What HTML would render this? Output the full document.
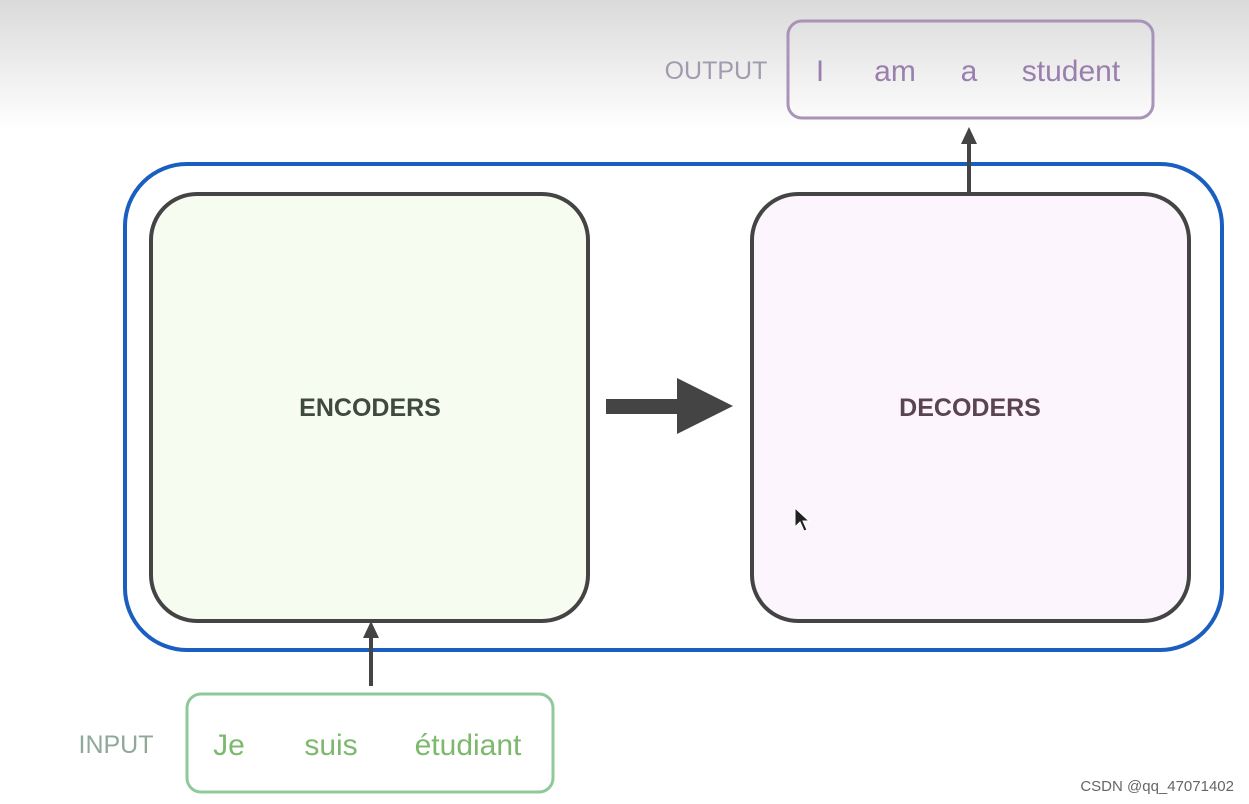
<!DOCTYPE html>
<html><head><meta charset="utf-8"><style>
html,body{margin:0;padding:0;width:1249px;height:804px;overflow:hidden;background:#fff}
text{font-family:"Liberation Sans",sans-serif}
</style></head><body>
<svg width="1249" height="804" viewBox="0 0 1249 804">
<defs>
<linearGradient id="bg" x1="0" y1="0" x2="0" y2="1">
<stop offset="0" stop-color="#dadada"/><stop offset="1" stop-color="#ffffff"/>
</linearGradient>
</defs>
<rect x="0" y="0" width="1249" height="130" fill="url(#bg)"/>
<rect x="125" y="164" width="1097" height="486" rx="62" fill="none" stroke="#1a5ec0" stroke-width="4"/>
<rect x="151" y="194" width="437" height="427" rx="46" fill="#f6fcef" stroke="#444" stroke-width="4"/>
<rect x="752" y="194" width="437" height="427" rx="46" fill="#fdf5fd" stroke="#444" stroke-width="4"/>
<text x="370" y="416" text-anchor="middle" font-size="25" font-weight="bold" fill="#3d4a3d">ENCODERS</text>
<text x="970" y="416" text-anchor="middle" font-size="25" font-weight="bold" fill="#5a4452">DECODERS</text>
<rect x="606" y="399" width="74" height="15" fill="#444"/>
<polygon points="677,378 733,406 677,434" fill="#444"/>
<line x1="969" y1="194" x2="969" y2="142" stroke="#444" stroke-width="4"/>
<polygon points="961,144 969,127 977,144" fill="#444"/>
<line x1="371" y1="686" x2="371" y2="636" stroke="#444" stroke-width="4"/>
<polygon points="363,638 371,621 379,638" fill="#444"/>
<rect x="788" y="21" width="365" height="97" rx="14" fill="none" stroke="#a993b9" stroke-width="3"/>
<text x="716" y="79" text-anchor="middle" font-size="25" fill="#a49ab0">OUTPUT</text>
<text x="820" y="81" text-anchor="middle" font-size="30" fill="#9a7fae">I</text>
<text x="895" y="81" text-anchor="middle" font-size="30" fill="#9a7fae">am</text>
<text x="969" y="81" text-anchor="middle" font-size="30" fill="#9a7fae">a</text>
<text x="1071" y="81" text-anchor="middle" font-size="30" fill="#9a7fae">student</text>
<rect x="187" y="694" width="366" height="98" rx="14" fill="none" stroke="#8fc899" stroke-width="3"/>
<text x="116" y="753" text-anchor="middle" font-size="25" fill="#8fa89a">INPUT</text>
<text x="229" y="755" text-anchor="middle" font-size="30" fill="#7db86d">Je</text>
<text x="331" y="755" text-anchor="middle" font-size="30" fill="#7db86d">suis</text>
<text x="468" y="755" text-anchor="middle" font-size="30" fill="#7db86d">étudiant</text>
<polygon points="795,508 795,527 800,522 804,531 807,530 803,521 809,521" fill="#222" stroke="#fff" stroke-width="1"/>
<text x="1234" y="791" text-anchor="end" font-size="15" fill="#666">CSDN @qq_47071402</text>
</svg>
</body></html>
